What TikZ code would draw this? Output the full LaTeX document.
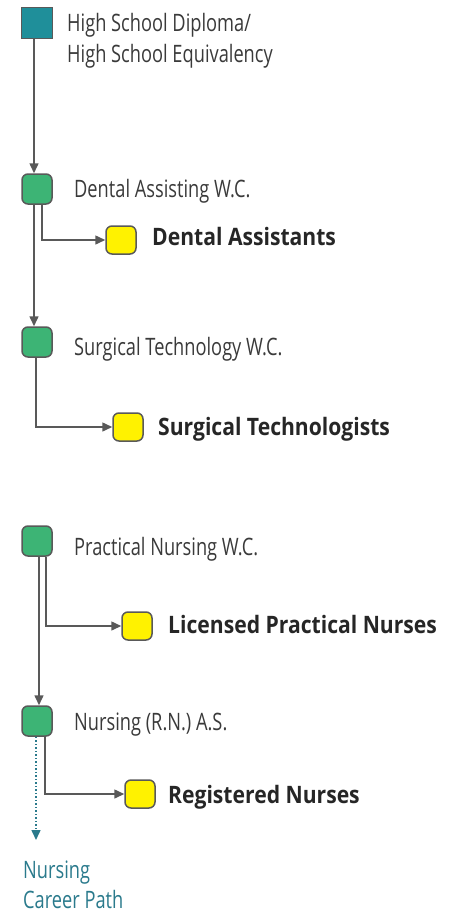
\documentclass[tikz,border=0pt]{standalone}
\usepackage{fontspec}
\setmainfont{Open Sans}[FakeStretch=0.76]
\newfontfamily\boldfam{Open Sans}[FakeStretch=0.88]
\usetikzlibrary{arrows.meta}
\definecolor{teal1}{HTML}{1F8F9A}
\definecolor{green1}{HTML}{3DB475}
\definecolor{yellow1}{HTML}{FFF200}
\definecolor{edge1}{HTML}{595959}
\definecolor{txt1}{HTML}{3A3A3A}
\definecolor{tealtxt}{HTML}{2A7A8C}
\tikzset{
  gnode/.style={draw=edge1, line width=1.5pt, fill=green1, rounded corners=6pt, minimum width=30pt, minimum height=30pt, inner sep=0pt},
  ynode/.style={gnode, fill=yellow1, minimum height=28pt},
  snode/.style={draw=edge1, line width=1.5pt, fill=teal1, minimum width=31pt, minimum height=31pt, inner sep=0pt},
  conn/.style={draw=edge1, line width=1.5pt, -{Triangle[length=10pt,width=9pt]}},
  lbl/.style={anchor=base west, inner sep=0pt, text=txt1, font=\fontsize{24}{31}\selectfont},
  blbl/.style={lbl, font=\fontsize{24}{31}\boldfam\bfseries, text=black!85},
  dconn/.style={draw=tealtxt, line width=1.5pt, dotted, -{Triangle[length=10pt,width=9pt]}}
}
\begin{document}
\begin{tikzpicture}[x=1pt,y=-1pt]
\useasboundingbox (0,0) rectangle (454,915);
\node[snode] (hs) at (37,23) {};
\node[gnode] (d1) at (37,189) {};
\node[ynode] (y1) at (121,240) {};
\node[gnode] (d2) at (37,342) {};
\node[ynode] (y2) at (128,427) {};
\node[gnode] (d3) at (37,541) {};
\node[ynode] (y3) at (137,626) {};
\node[gnode] (d4) at (37,721) {};
\node[ynode] (y4) at (140,794) {};
\coordinate (cp) at (36,840);

\node[lbl] (t0a) at (67,32) {High School Diploma/};
\node[lbl] (t0b) at (67,63) {High School Equivalency};
\node[lbl] (t1) at (74,197) {Dental Assisting W.C.};
\node[blbl] (b1) at (152,245) {Dental Assistants};
\node[lbl] (t2) at (74,355) {Surgical Technology W.C.};
\node[blbl] (b2) at (158,435) {Surgical Technologists};
\node[lbl] (t3) at (74,555) {Practical Nursing W.C.};
\node[blbl] (b3) at (168,633) {Licensed Practical Nurses};
\node[lbl] (t4) at (74,730) {Nursing (R.N.) A.S.};
\node[blbl] (b4) at (168,803) {Registered Nurses};
\node[lbl, text=tealtxt] (n1) at (23,878) {Nursing};
\node[lbl, text=tealtxt] (n2) at (23,908) {Career Path};

\draw[conn] ([xshift=-3pt]hs.south) -- ([xshift=-3pt]d1.north);
\draw[conn] ([xshift=5pt]d1.south) |- (y1.west);
\draw[conn] ([xshift=-3pt]d1.south) -- ([xshift=-3pt]d2.north);
\draw[conn] ([xshift=-1pt]d2.south) |- (y2.west);
\draw[conn] ([xshift=2pt]d3.south) -- ([xshift=2pt]d4.north);
\draw[conn] ([xshift=9pt]d3.south) |- (y3.west);
\draw[conn] ([xshift=8pt]d4.south) |- (y4.west);
\draw[dconn] ([xshift=-1pt]d4.south) -- (cp);
\end{tikzpicture}
\end{document}
